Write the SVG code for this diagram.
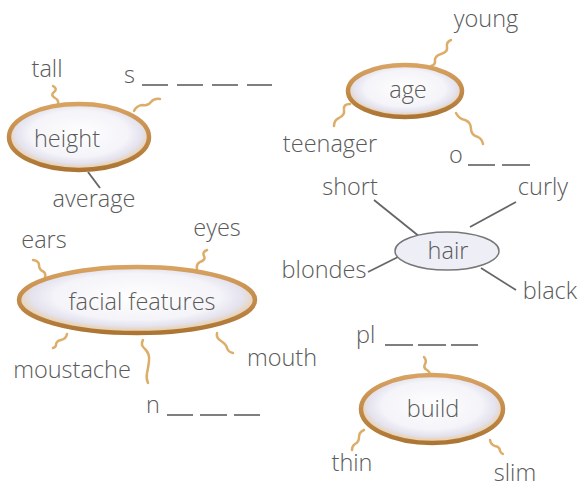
<svg xmlns="http://www.w3.org/2000/svg" width="580" height="489" viewBox="0 0 580 489">
<defs>
<radialGradient id="fillG" cx="50%" cy="45%" r="50%">
<stop offset="0" stop-color="#ffffff"/>
<stop offset="0.7" stop-color="#f4f4f9"/>
<stop offset="0.9" stop-color="#e4e2ee"/>
<stop offset="1" stop-color="#e8d4b8"/>
</radialGradient>
<linearGradient id="ringG" x1="0" y1="0" x2="0" y2="1">
<stop offset="0" stop-color="#d8a261"/>
<stop offset="1" stop-color="#ad7533"/>
</linearGradient>
</defs>
<style>
text{font-family:"Open Sans","Noto Sans","Liberation Sans",sans-serif;fill:#5a5a5a;font-size:23.5px;font-weight:300}
.node{fill:url(#fillG);stroke:url(#ringG);stroke-width:4.5}
.hairn{fill:#eeeef7;stroke:#777;stroke-width:1.5}
.sq{fill:none;stroke:#dcae6a;stroke-width:2.5;stroke-linecap:round}
.ln{fill:none;stroke:#666;stroke-width:1.8}
.blank{stroke:#555;stroke-width:1.5}
.c{text-anchor:middle}
</style>

<g id="connectors">
<!-- height -->
<path class="sq" d="M53,86 q5,3 1,6 q-4,3 1,6 q4,2 3,6"/>
<path class="sq" d="M160,99 q-6,-1 -9,3 q-3,4 -8,3 q-6,0 -9,6"/>
<path class="ln" d="M88,172 L100,188" stroke-width="1.5"/>
<!-- age -->
<path class="sq" d="M451,40 q-5,2 -4,7 q1,5 -6,7 q-7,2 -6,8 q0,3 -4,4"/>
<path class="sq" d="M350,104 q-7,0 -6,6 q1,5 -5,8 q-5,2 -5,8"/>
<path class="sq" d="M456,113 q3,6 9,7 q6,2 6,9 q0,6 7,8 q4,2 5,7"/>
<!-- hair -->
<path class="ln" d="M374,200 L420,237"/>
<path class="ln" d="M516,202 L470,227"/>
<path class="ln" d="M368,272 L400,256"/>
<path class="ln" d="M516,290 L481,268"/>
<!-- facial features -->
<path class="sq" d="M33,260 q6,1 6,5 q0,5 5,7 q2,2 1,6"/>
<path class="sq" d="M207,250 q-5,2 -3,6 q2,4 -4,6 q-4,2 -3,7"/>
<path class="sq" d="M67,334 q-1,5 -6,6 q-5,1 -5,5 q0,2 -3,3"/>
<path class="sq" d="M143,340 q-3,5 2,9 q5,5 4,12 q-1,8 -2,12 q-1,6 1,10" stroke-width="1.6"/>
<path class="sq" d="M217,333 q-1,5 4,8 q5,3 6,7 q1,4 6,5"/>
<!-- build -->
<path class="sq" d="M424,357 q3,4 1,7 q-2,4 2,6 q3,2 3,5"/>
<path class="sq" d="M364,430 q-5,2 -5,7 q0,5 -4,7 q-3,2 -3,6"/>
<path class="sq" d="M490,440 q1,5 5,6 q5,1 5,5 q1,2 3,3"/>
</g>

<g id="height">
<ellipse class="node" cx="79" cy="137" rx="70" ry="33"/>
<text x="67" y="147" class="c">height</text>
</g>
<g id="tall"><text x="47" y="77" class="c">tall</text></g>
<g id="s-blank"><text x="124" y="83">s</text>
<path class="blank" d="M142,85 h26 M177,85 h26 M212,85 h26 M247,85 h25"/></g>
<g id="average"><text x="94" y="207" class="c">average</text></g>

<g id="age">
<ellipse class="node" cx="405" cy="91" rx="57" ry="26"/>
<text x="408" y="98" class="c">age</text>
</g>
<g id="young"><text x="486" y="27" class="c">young</text></g>
<g id="teenager"><text x="330" y="152" class="c">teenager</text></g>
<g id="o-blank"><text x="449" y="163">o</text>
<path class="blank" d="M468,165 h27 M502,165 h28"/></g>

<g id="hair">
<ellipse class="hairn" cx="447" cy="251" rx="52" ry="19"/>
<text x="448" y="259" class="c">hair</text>
</g>
<g id="short"><text x="350" y="195" class="c">short</text></g>
<g id="curly"><text x="543" y="195" class="c">curly</text></g>
<g id="blondes"><text x="324" y="278" class="c">blondes</text></g>
<g id="black"><text x="550" y="299" class="c">black</text></g>

<g id="facial-features">
<ellipse class="node" cx="137" cy="300" rx="118" ry="33"/>
<text x="142" y="310" class="c">facial features</text>
</g>
<g id="ears"><text x="44" y="248" class="c">ears</text></g>
<g id="eyes"><text x="217" y="236" class="c">eyes</text></g>
<g id="moustache"><text x="72" y="378" class="c">moustache</text></g>
<g id="mouth"><text x="282" y="366" class="c">mouth</text></g>
<g id="n-blank"><text x="146" y="413">n</text>
<path class="blank" d="M167,415 h26 M200,415 h27 M234,415 h26"/></g>

<g id="build">
<ellipse class="node" cx="432" cy="409" rx="71" ry="34"/>
<text x="433" y="417" class="c">build</text>
</g>
<g id="pl-blank"><text x="356" y="343">pl</text>
<path class="blank" d="M385,345 h28 M418,345 h28 M451,345 h27"/></g>
<g id="thin"><text x="352" y="471" class="c">thin</text></g>
<g id="slim"><text x="515" y="481" class="c">slim</text></g>
</svg>
